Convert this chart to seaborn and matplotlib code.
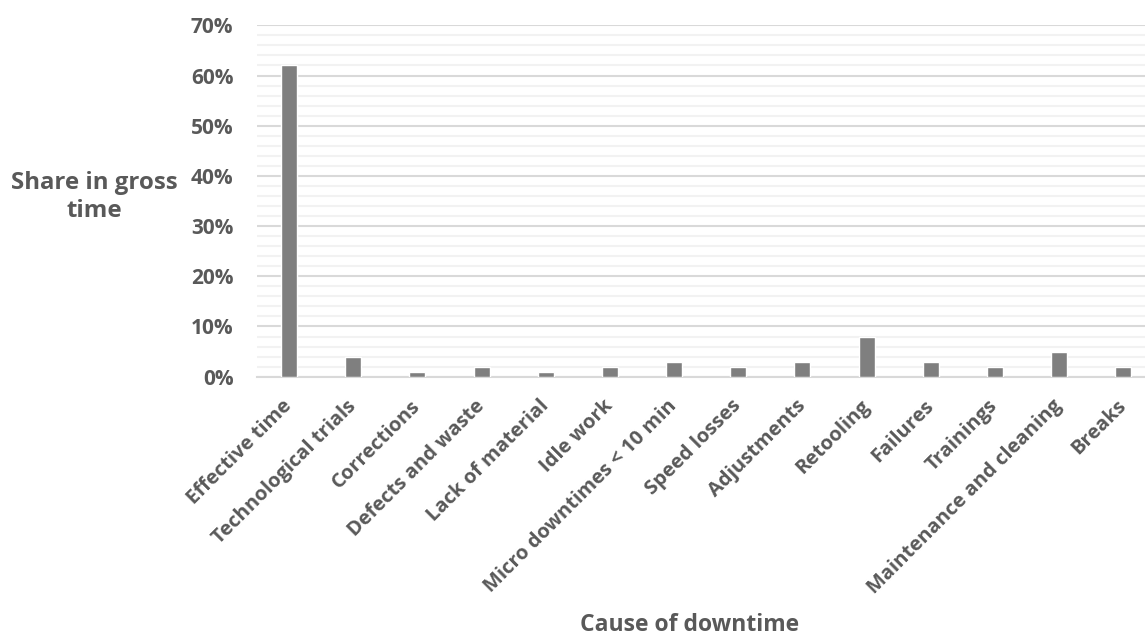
import matplotlib
matplotlib.use("Agg")
import matplotlib.pyplot as plt
import seaborn as sns
import pandas as pd
from matplotlib.ticker import MultipleLocator, PercentFormatter

categories = [
    "Effective time", "Technological trials", "Corrections", "Defects and waste",
    "Lack of material", "Idle work", "Micro downtimes < 10 min", "Speed losses",
    "Adjustments", "Retooling", "Failures", "Trainings",
    "Maintenance and cleaning", "Breaks",
]
shares = [0.62, 0.04, 0.01, 0.02, 0.01, 0.02, 0.03, 0.02, 0.03, 0.08, 0.03, 0.02, 0.05, 0.02]

df = pd.DataFrame({"cause": categories, "share": shares})

sns.set_theme(style="white")
plt.rcParams["font.family"] = ["Open Sans", "DejaVu Sans"]
plt.rcParams["font.weight"] = "bold"

text_color = "#595959"

fig = plt.figure(figsize=(11.45, 6.39), dpi=100)
ax = fig.add_axes([0.2245, 0.4105, 0.7755, 0.5499])

sns.barplot(data=df, x="cause", y="share", color="#7f7f7f", width=0.25,
            saturation=1, ax=ax, zorder=3)

ax.set_ylim(0, 0.70)
ax.set_xlim(-0.5, 13.34)
ax.yaxis.set_major_locator(MultipleLocator(0.10))
ax.yaxis.set_minor_locator(MultipleLocator(0.02))
ax.yaxis.set_major_formatter(PercentFormatter(1.0, decimals=0))

ax.grid(which="major", axis="y", color="#d9d9d9", linewidth=1.5, zorder=1)
ax.grid(which="minor", axis="y", color="#f2f2f2", linewidth=1.5, zorder=0)
ax.grid(axis="x", visible=False)

for side in ["top", "right", "left"]:
    ax.spines[side].set_visible(False)
ax.spines["bottom"].set_color("#d9d9d9")
ax.spines["bottom"].set_linewidth(1.5)

ax.tick_params(axis="both", which="both", length=0, colors=text_color)
ax.tick_params(axis="y", labelsize=15, pad=17)
ax.tick_params(axis="x", labelsize=14.5, pad=19)
for lab in ax.get_yticklabels():
    lab.set_fontweight("bold")
for lab in ax.get_xticklabels():
    lab.set_rotation(45)
    lab.set_ha("right")
    lab.set_va("center")
    lab.set_rotation_mode("anchor")
    lab.set_fontweight("bold")

ax.set_xlabel("")
ax.set_ylabel("")
fig.text(94 / 1145, 1 - 197 / 639, "Share in gross\ntime", ha="center", va="center",
         fontsize=17.3, fontweight="bold", color=text_color, linespacing=1.2)
fig.text(690 / 1145, 1 - 625 / 639, "Cause of downtime", ha="center", va="center",
         fontsize=16.5, fontweight="bold", color=text_color)

fig.savefig("out.png", dpi=100)
